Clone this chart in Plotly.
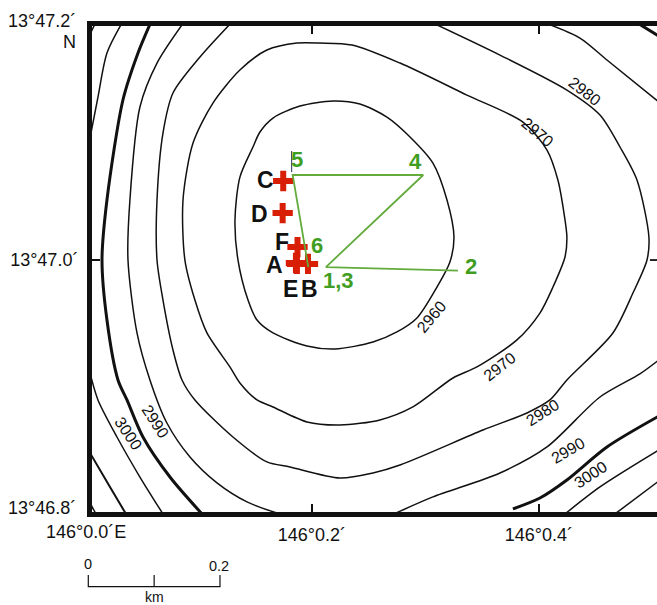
import plotly.graph_objects as go

# Map coordinates: decimal minutes east of 146 deg (x), minutes north of 13 deg (y)
c2960_x = [.2169,.2409,.2649,.2836,.3058,.3183,.3245,.3209,.3094,.2916,.2738,.2525,.2187,.1938,.1636,.1494,.1414,.1325,.1298,.1342,.1458,.1520,.1636,.1876,.2169]
c2960_y = [47.1365,47.1340,47.1234,47.1088,47.0859,47.0558,47.0257,47.0053,46.9849,46.9597,46.9483,46.9401,46.9344,46.9369,46.9475,46.9580,46.9743,47.0069,47.0395,47.0745,47.0990,47.1112,47.1226,47.1324,47.1365]
c2970_x = [.2054,.2338,.2765,.3360,.3858,.4072,.4169,.4223,.4249,.4232,.4125,.4009,.3805,.3449,.3236,.2880,.2587,.2231,.1938,.1636,.1494,.1342,.1253,.1049,.0942,.0853,.0836,.0925,.1102,.1342,.1582,.1849,.2054]
c2970_y = [47.1837,47.1821,47.1674,47.1413,47.1193,47.0965,47.0721,47.0452,47.0257,47.0094,46.9849,46.9637,46.9418,46.9198,46.9108,46.8872,46.8766,46.8725,46.8750,46.8872,46.8929,46.9067,46.9198,46.9475,46.9743,47.0069,47.0558,47.1022,47.1348,47.1617,47.1780,47.1837,47.1837]
c2980_x = [.3040,.3654,.4249,.4543,.4721,.4872,.4978,.4961,.4836,.4658,.4249,.4098,.3894,.3503,.2765,.2525,.2231,.1787,.1582,.1280,.0942,.0827,.0747,.0658,.0605,.0605,.0658,.0747,.0987,.1271]
c2980_y = [47.2008,47.1739,47.1454,47.1251,47.0990,47.0721,47.0257,47.0069,46.9800,46.9475,46.9092,46.8929,46.8823,46.8684,46.8399,46.8334,46.8293,46.8383,46.8424,46.8627,46.8929,46.9092,46.9336,46.9743,47.0069,47.0558,47.1104,47.1430,47.1723,47.2008]
c2990a_x = [.0845,.0605,.0453,.0364,.0347,.0427,.0542,.0693,.0898,.1138,.1405,.1698]
c2990a_y = [47.2008,47.1674,47.1316,47.0558,47.0069,46.9475,46.9092,46.8741,46.8464,46.8253,46.8098,46.8000]
c2990b_x = [.2711,.3058,.3654,.4072,.4543,.4898,.5067]
c2990b_y = [46.8000,46.8139,46.8334,46.8546,46.8953,46.9141,46.9255]
c2990c_x = [.4036,.4365,.4605,.5067]
c2990c_y = [47.2008,47.1878,47.1699,47.1356]
c3000a_x = [.0551,.0436,.0302,.0160,.0116,.0160,.0258,.0338,.0480,.0720,.1005]
c3000a_y = [47.2008,47.1756,47.1373,47.0558,47.0069,46.9580,46.9092,46.8929,46.8627,46.8301,46.8000]
c3000b_x = [.3769,.4009,.4249,.4605,.5067]
c3000b_y = [46.8041,46.8130,46.8277,46.8546,46.8798]
c3000c_x = [.4863,.5067]
c3000c_y = [47.2008,47.1894]
c3010a_x = [.0298,.0160,.0080,.0018]
c3010a_y = [47.2008,47.1756,47.1397,47.1104]
c3010b_x = [.0009,.0080,.0249,.0453,.0658]
c3010b_y = [46.9149,46.8929,46.8627,46.8301,46.8000]
c3010c_x = [.4232,.4543,.5067]
c3010c_y = [46.8000,46.8220,46.8521]
c3020a_x = [.0009,.0187,.0329]
c3020a_y = [46.8497,46.8220,46.8000]
c3020b_x = [.4676,.5067]
c3020b_y = [46.8000,46.8269]
c3030a_x = [.0009,.0062]
c3030a_y = [46.8090,46.8000]
c3030b_x = [.0062,.0009]
c3030b_y = [47.2008,47.1910]

site_x = [.1727,.1722,.1854,.1840,.1849,.1947]
site_y = [47.0713,47.0452,47.0175,47.0045,47.0037,47.0037]
site_names = ["C","D","F","A","E","B"]
site_label_x = [.1565,.1520,.1716,.1645,.1796,.1965]
site_label_y = [47.0721,47.0444,47.0216,47.0029,46.9833,46.9833]

track_x = [.2107,.3280,.2107,.2972,.1811,.1950]
track_y = [47.0012,46.9982,47.0012,47.0762,47.0762,47.0012]
track_names = ["5","4","6","2","1,3"]
track_label_x = [.1846,.2904,.2027,.3393,.2214]
track_label_y = [47.0892,47.0868,47.0191,47.0020,46.9906]

contour_labels = ["2980","2970","2960","2970","2980","2990","3000","3000","2990"]
contour_label_x = [.4409,.3992,.3049,.3654,.4036,.4258,.4463,.0347,.0587]
contour_label_y = [47.1446,47.1112,46.9605,46.9198,46.8823,46.8521,46.8318,46.8652,46.8750]
contour_label_rot = [38,40,-50,-38,-32,-30,-33,56,57]

x_tick_vals = [.1982,.4]
x_tick_text = ["146°0.2´","146°0.4´"]
y_tick_vals = [47.0069]
y_tick_text = ["13°47.0´"]

scale_km = [0,0,0.1,0.1,0.1,0.2,0.2]
scale_h = [1,0,0,1,0,0,1]

FONT = "Liberation Sans"
BLACK = "#111111"
GREEN = "#3f9e1f"
TRACKLINE = "#62ab3c"
RED = "#d81e05"

thin = [(c2960_x,c2960_y),(c2970_x,c2970_y),(c2980_x,c2980_y),(c2990a_x,c2990a_y),(c2990b_x,c2990b_y),
        (c2990c_x,c2990c_y),(c3010a_x,c3010a_y),(c3010b_x,c3010b_y),(c3010c_x,c3010c_y),
        (c3020b_x,c3020b_y),(c3030a_x,c3030a_y),(c3030b_x,c3030b_y)]
medium = [(c3020a_x,c3020a_y)]
thick = [(c3000a_x,c3000a_y),(c3000b_x,c3000b_y),(c3000c_x,c3000c_y)]

fig = go.Figure()
for group, w in ((thin,1.5),(medium,2.0),(thick,3.0)):
    for xs, ys in group:
        fig.add_trace(go.Scatter(x=xs, y=ys, mode="lines", line=dict(color=BLACK, width=w, shape="spline", smoothing=0.8), hoverinfo="skip"))

fig.add_trace(go.Scatter(x=site_x, y=site_y, mode="markers",
    marker=dict(symbol="cross-thin", size=14.5, line=dict(color=RED, width=6)), hoverinfo="skip"))
fig.add_trace(go.Scatter(x=track_x, y=track_y, mode="lines", line=dict(color=TRACKLINE, width=1.8), hoverinfo="skip"))
# small mark left of the "5"
fig.add_trace(go.Scatter(x=[.1802,.1802], y=[47.0957,47.0786], mode="lines", line=dict(color="#223355", width=1), hoverinfo="skip"))
# right-frame tick at 13 deg 47.0'
fig.add_trace(go.Scatter(x=[.4987,.505], y=[47.0069,47.0069], mode="lines", line=dict(color=BLACK, width=1.8), hoverinfo="skip"))
# scale bar on its own small subplot (km)
fig.add_trace(go.Scatter(x=scale_km, y=scale_h, xaxis="x2", yaxis="y2", mode="lines",
    line=dict(color=BLACK, width=1.2), hoverinfo="skip"))

ann = []
def a(x, y, text, size, color=BLACK, bold=False, rot=0, xref="x", yref="y", xanchor="center"):
    ann.append(dict(x=x, y=y, xref=xref, yref=yref, text=f"<b>{text}</b>" if bold else text, showarrow=False,
                    textangle=rot, xanchor=xanchor, yanchor="middle",
                    font=dict(family=FONT, size=size, color=color)))

for t, x, y in zip(site_names, site_label_x, site_label_y):
    a(x, y, t, 23, bold=True)
for t, x, y in zip(track_names, track_label_x, track_label_y):
    a(x, y, t, 22, color=GREEN, bold=True)
for t, x, y, r in zip(contour_labels, contour_label_x, contour_label_y, contour_label_rot):
    a(x, y, t, 16, rot=r)

W, H = 657, 605
def px(v): return v / W
def py(v): return 1 - v / H

# corner coordinate labels
a(px(78), py(21), "13°47.2´", 18, xanchor="right", xref="paper", yref="paper")
a(px(78), py(42), "N", 18, xanchor="right", xref="paper", yref="paper")
a(px(78), py(508), "13°46.8´", 18, xanchor="right", xref="paper", yref="paper")
a(px(86), py(532), "146°0.0´E", 18, xref="paper", yref="paper")
# scale labels
a(0.0, 1.94, "0", 14.5, xref="x2", yref="y2")
a(.1992, 1.76, "0.2", 14.5, xref="x2", yref="y2")
a(0.1, -0.88, "km", 14, xref="x2", yref="y2")

fig.update_layout(
    width=W, height=H, autosize=False, showlegend=False,
    margin=dict(l=0, r=0, t=0, b=0, pad=0),
    paper_bgcolor="white", plot_bgcolor="white",
    annotations=ann,
    xaxis=dict(domain=[px(92),1], range=[.0027,.5050], tickmode="array", tickvals=x_tick_vals, ticktext=x_tick_text,
               ticks="inside", ticklen=8, tickwidth=1.8, tickcolor=BLACK, showgrid=False, zeroline=False,
               showline=True, linewidth=5, linecolor=BLACK, mirror="ticks", ticklabelstandoff=2,
               tickfont=dict(family=FONT, size=18, color=BLACK)),
    yaxis=dict(domain=[py(512),py(25.5)], range=[46.8016,47.198], tickmode="array", tickvals=y_tick_vals, ticktext=y_tick_text,
               ticks="inside", ticklen=8, tickwidth=1.8, tickcolor=BLACK, showgrid=False, zeroline=False,
               showline=True, linewidth=5, linecolor=BLACK, ticklabelstandoff=5,
               tickfont=dict(family=FONT, size=18, color=BLACK)),
    xaxis2=dict(domain=[px(70),px(240)], range=[-.0278,.2304], anchor="y2", visible=False),
    yaxis2=dict(domain=[py(600),py(550)], range=[-1.137,3.137], anchor="x2", visible=False),
)
fig.write_html("out.html", config=dict(displayModeBar=False), post_script="document.body.style.margin='0';")
